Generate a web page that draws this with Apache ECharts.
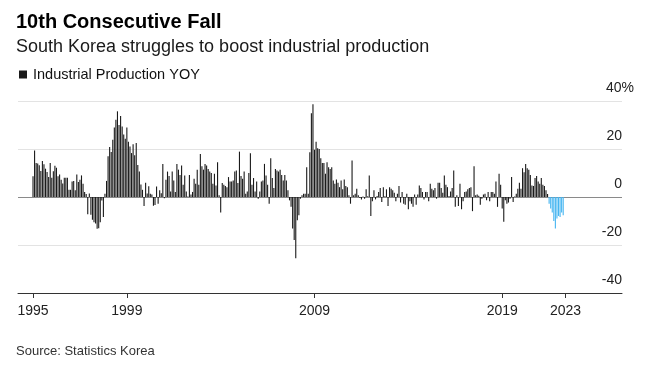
<!DOCTYPE html>
<html><head><meta charset="utf-8">
<script src="https://cdn.jsdelivr.net/npm/echarts@6/dist/echarts.min.js"></script>
<style>html,body{margin:0;padding:0;background:#fff}#c{width:651px;height:365px}</style>
</head><body><div id="c"></div>
<script>
// Industrial Production YoY (%), monthly (month index 0 = first bar)
const yoySeg1 = [8.6,19.4,14.2,14,13.2,10.8,15,13.6,11.8,10.4,
  8.3,14.2,8,10.7,13,12.2,8.6,9.4,7.2,5.6,
  8,8,8,3,3,6.5,6.7,2.8,9.4,6.2,
  7.2,9,5.5,2.1,1.2,-7.2,1.5,-7.4,-9.5,-10.5,
  -11,-13.2,-13,-10.5,-1.5,-8.3,1.4,6.7,17,20.8,
  18.8,23.9,29,32.2,35.7,30,33.8,29.4,26,24.3];
const yoySeg2 = [29,23,21,18.3,22,17.4,22.5,13.3,10.6,5.2,
  3,-3.8,5.9,1.5,4.5,1.4,1,-3.6,-3.3,4.4,
  -2.8,2.8,1.6,13.8,-0.5,7.2,10.6,8.7,2.3,10.6,
  6.9,2.1,13.8,11.4,9.2,13.1,5.1,9,2.3,0.2,
  9.2,1,2.1,7.6,5.5,11.4,5.1,17.9,12.8,11.4,
  13.8,13.1,11.7,10.6,10,5.5,9.7,4.8,14.5,0.7];
const yoySeg3 = [-6.5,5.8,5.1,4.6,4.1,8.3,6.5,6.5,6.9,10.6,
  11,5.8,18.9,8.7,7.6,10.6,1.4,2.3,10,18.2,
  5.1,7.9,2.3,6.5,-0.7,2.3,6.5,6.9,13.8,9,
  5.1,-2.8,16.1,7.9,3.7,11.7,11,10.6,11.4,9.2,
  6.9,9.2,6.9,2.8,-1.4,-4.1,-13.1,-17.9,-25.5,-9.7,
  -7.6,-0.7,0.7,1.4,1.4,12.4,1.4,18.6,34.9,38.6];
const yoySeg4 = [19.7,23,20.3,20,16.1,14.2,14.2,9.7,14.5,12.4,
  11.7,12.4,6.9,5.5,7.3,5.9,4.1,6.9,3.2,7.3,
  4.6,4.1,0.7,-2.8,15.2,0.7,1.4,3.4,0.7,-0.4,
  -1,0.2,-0.7,3.2,0.3,9,-7.9,-1.8,2.8,-1,
  0.4,2.1,3.7,-2.1,4.1,0.3,3.2,-3.7,4.1,3.4,
  2.8,1.8,-1.8,1.4,4.6,-2.3,2.1,-2.8,-3.2,1.4];
const yoySeg5 = [-5.1,-1.8,-2.8,-4.1,1,-3.2,1,4.8,3.7,2.1,
  -1,2.1,2.1,-1.8,5.5,3.4,2.8,3.7,-0.7,5.9,
  5.9,3.7,1.8,9,5.1,4.1,0.4,2.3,3.7,11,
  -4.1,0.7,-3.7,5.5,-5.1,-1.8,2.1,2.3,3.2,3.7,
  4.1,-5.9,12.8,0.7,1,0.5,-3.2,-0.7,1,1.4,
  -1.4,2.1,-1.8,2.1,2.1,1.4,6.5,-4.1,9.7,5.1];
const yoySeg6 = [-4.8,-10.3,-1.4,-2.8,-2.3,-0.7,8.3,-2.1,0.2,1.4,
  3.4,5.9,3.4,12,10.3,13.8,12,11.4,9.2,4.8,
  4.6,7.9,8.7,6.5,5.5,7.9,5.1,4.6,2.8,1.2];
// the 10 consecutive falls (highlighted)
const yoyFalls = [-2.8,-4.8,-6.5,-10,-13.1,-9,-7.9,-8.3,-6.5,-7.6];

const tickPositions = [0, 60, 180, 300, 340.5];
const tickLabels = ['1995', '1999', '2009', '2019', '2023'];
const yMin = -40, yMax = 40, yStep = 20;

const FONT = "'Liberation Sans', Arial, Helvetica, sans-serif";
const history = [].concat(yoySeg1, yoySeg2, yoySeg3, yoySeg4, yoySeg5, yoySeg6);
const barData = history.map((v, i) => [i, v]);
yoyFalls.forEach((v, i) => barData.push({ value: [history.length + i, v], itemStyle: { color: '#45b5f0' } }));

const chart = echarts.init(document.getElementById('c'), null, { renderer: 'canvas' });
chart.setOption({
  animation: false,
  backgroundColor: '#fff',
  textStyle: { fontFamily: FONT },
  title: [
    { text: '10th Consecutive Fall', left: 11, top: 7, padding: 5,
      textStyle: { fontFamily: FONT, fontSize: 20, fontWeight: 'bold', color: '#000' } },
    { text: 'South Korea struggles to boost industrial production', left: 11, top: 33,
      textStyle: { fontFamily: FONT, fontSize: 18, fontWeight: 'normal', color: '#1a1a1a' } },
    { text: 'Source: Statistics Korea', left: 11, top: 340,
      textStyle: { fontFamily: FONT, fontSize: 13, fontWeight: 'normal', color: '#333' } }
  ],
  legend: {
    left: 14, top: 62, icon: 'rect', itemWidth: 8, itemHeight: 8, itemGap: 10,
    textStyle: { fontFamily: FONT, fontSize: 14.5, color: '#111', padding: [0, 0, 0, 1] },
    data: ['Industrial Production YOY']
  },
  grid: { left: 18, right: 29, top: 101, bottom: 72, containLabel: false },
  xAxis: {
    type: 'value', min: -9.6, max: 376.6,
    splitLine: { show: false },
    axisLine: { show: true, onZero: false, lineStyle: { color: '#333', width: 1 } },
    axisTick: { show: true, length: 5, customValues: tickPositions, lineStyle: { color: '#333' } },
    axisLabel: {
      customValues: tickPositions, margin: 11, fontSize: 14, color: '#222', fontFamily: FONT,
      formatter: function (v) {
        let best = 0;
        for (let i = 1; i < tickPositions.length; i++) {
          if (Math.abs(tickPositions[i] - v) < Math.abs(tickPositions[best] - v)) best = i;
        }
        return tickLabels[best];
      }
    }
  },
  yAxis: {
    type: 'value', position: 'right', min: yMin, max: yMax, interval: yStep, offset: 12,
    axisLine: { show: false }, axisTick: { show: false },
    splitLine: { show: true, lineStyle: { color: ['#e3e3e3', '#e3e3e3', '#8a8a8a', '#e3e3e3', '#e3e3e3'], width: 1 } },
    axisLabel: {
      inside: true, margin: 0, verticalAlign: 'bottom', padding: [0, 0, 5, 0],
      formatter: function (v) { return v === yMax ? '{n|' + v + '%}' : '{n|' + v + '}{s| }'; },
      rich: {
        n: { fontSize: 14, color: '#222', fontFamily: FONT, lineHeight: 16 },
        s: { width: 12, fontSize: 14, lineHeight: 16 }
      }
    }
  },
  series: [{
    name: 'Industrial Production YOY', type: 'bar', barWidth: 1.1,
    itemStyle: { color: '#1a1a1a' },
    data: barData
  }]
});
</script></body></html>
